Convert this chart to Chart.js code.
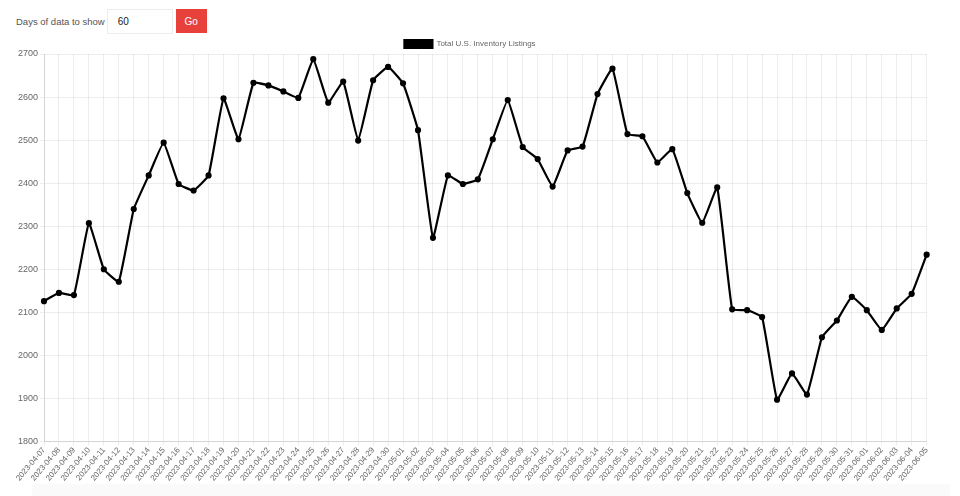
<!DOCTYPE html>
<html lang="en">
<head>
  <meta charset="UTF-8" />
  <title>Total U.S. Inventory Listings</title>
  <script src="https://cdn.jsdelivr.net/npm/chart.js"></script>
  <style>
    * {
      box-sizing: border-box;
    }

    body {
      margin: 0;
      padding: 0;
      width: 960px;
      height: 496px;
      overflow: hidden;
      background: #fff;
      font-family: 'Liberation Sans', Arial, sans-serif;
      color: #555;
      position: relative;
    }

    .controls {
      position: absolute;
      top: 9px;
      left: 16px;
      height: 24px;
      display: flex;
      align-items: center;
      font-size: 9.5px;
    }

    .controls input {
      margin-left: 2px;
      width: 66px;
      height: 25px;
      border: 1px solid #ececec;
      padding: 0 0 0 10px;
      font-family: inherit;
      font-size: 10px;
      color: #222;
      outline: none;
    }

    .controls button {
      margin-left: 3px;
      width: 31px;
      height: 24px;
      border: none;
      background: #e8413c;
      color: #fff;
      font-family: inherit;
      font-size: 10px;
      padding: 0;
    }

    .bottom-band {
      position: absolute;
      left: 32px;
      right: 10px;
      top: 484px;
      bottom: 0;
      background: #fafafa;
    }

    .chart-container {
      position: absolute;
      top: 38px;
      left: 0;
      width: 934px;
      height: 445px;
    }
  </style>
</head>
<body>
  <div class="controls">
    <span>Days of data to show</span>
    <input type="text" value="60" />
    <button>Go</button>
  </div>
  <div class="bottom-band"></div>
  <div class="chart-container">
    <canvas id="inventoryChart"></canvas>
  </div>

  <script>
    const dates = [
      '2023-04-07', '2023-04-08', '2023-04-09', '2023-04-10', '2023-04-11', '2023-04-12',
      '2023-04-13', '2023-04-14', '2023-04-15', '2023-04-16', '2023-04-17', '2023-04-18',
      '2023-04-19', '2023-04-20', '2023-04-21', '2023-04-22', '2023-04-23', '2023-04-24',
      '2023-04-25', '2023-04-26', '2023-04-27', '2023-04-28', '2023-04-29', '2023-04-30',
      '2023-05-01', '2023-05-02', '2023-05-03', '2023-05-04', '2023-05-05', '2023-05-06',
      '2023-05-07', '2023-05-08', '2023-05-09', '2023-05-10', '2023-05-11', '2023-05-12',
      '2023-05-13', '2023-05-14', '2023-05-15', '2023-05-16', '2023-05-17', '2023-05-18',
      '2023-05-19', '2023-05-20', '2023-05-21', '2023-05-22', '2023-05-23', '2023-05-24',
      '2023-05-25', '2023-05-26', '2023-05-27', '2023-05-28', '2023-05-29', '2023-05-30',
      '2023-05-31', '2023-06-01', '2023-06-02', '2023-06-03', '2023-06-04', '2023-06-05'
    ];

    const listings = [
      2126, 2145, 2140, 2307, 2200, 2171,
      2340, 2418, 2494, 2398, 2383, 2418,
      2597, 2502, 2633, 2627, 2613, 2598,
      2688, 2587, 2636, 2499, 2639, 2670,
      2632, 2523, 2273, 2418, 2398, 2409,
      2502, 2593, 2484, 2456, 2392, 2476,
      2485, 2607, 2666, 2514, 2509, 2448,
      2479, 2377, 2308, 2390, 2107, 2105,
      2089, 1897, 1958, 1909, 2042, 2081,
      2136, 2105, 2059, 2109, 2143, 2234
    ];

    const yMin = 1800;
    const yMax = 2700;

    const tickFont = { family: "'Liberation Sans', Arial, sans-serif", size: 9 };

    // the legend adds a fixed 10px under itself, the original sits closer to the plot
    const tightLegend = {
      id: 'tightLegend',
      afterInit(chart) {
        const legend = chart.legend;
        if (!legend || legend._tight) return;
        const fit = legend.fit;
        legend.fit = function () {
          fit.call(this);
          this.height -= 4;
        };
        legend._tight = true;
      }
    };

    const ctx = document.getElementById('inventoryChart').getContext('2d');
    new Chart(ctx, {
      type: 'line',
      data: {
        labels: dates,
        datasets: [{
          label: 'Total U.S. Inventory Listings',
          data: listings,
          borderColor: '#000',
          backgroundColor: '#000',
          borderWidth: 2.2,
          pointRadius: 2,
          pointBackgroundColor: '#000',
          tension: 0.1,
          fill: false
        }]
      },
      options: {
        responsive: true,
        maintainAspectRatio: false,
        animation: false,
        layout: {
          padding: { left: 6, right: 0, top: 0, bottom: 0 }
        },
        plugins: {
          legend: {
            position: 'top',
            labels: {
              boxWidth: 28,
              boxHeight: 8,
              padding: 2,
              color: '#666',
              font: { family: "'Liberation Sans', Arial, sans-serif", size: 8 }
            }
          },
          tooltip: { enabled: false }
        },
        scales: {
          x: {
            grid: {
              color: 'rgba(0, 0, 0, 0.07)',
              tickLength: 4
            },
            ticks: {
              color: '#666',
              autoSkip: false,
              minRotation: 50,
              maxRotation: 50,
              padding: 0,
              font: { family: "'Liberation Sans', Arial, sans-serif", size: 8 }
            }
          },
          y: {
            min: yMin,
            max: yMax,
            afterFit: scale => { scale.width = 38; },
            grid: {
              color: 'rgba(0, 0, 0, 0.07)',
              tickLength: 4
            },
            ticks: {
              stepSize: 100,
              color: '#666',
              padding: 2,
              font: tickFont,
              callback: value => String(value)
            }
          }
        }
      },
      plugins: [tightLegend]
    });
  </script>
</body>
</html>
